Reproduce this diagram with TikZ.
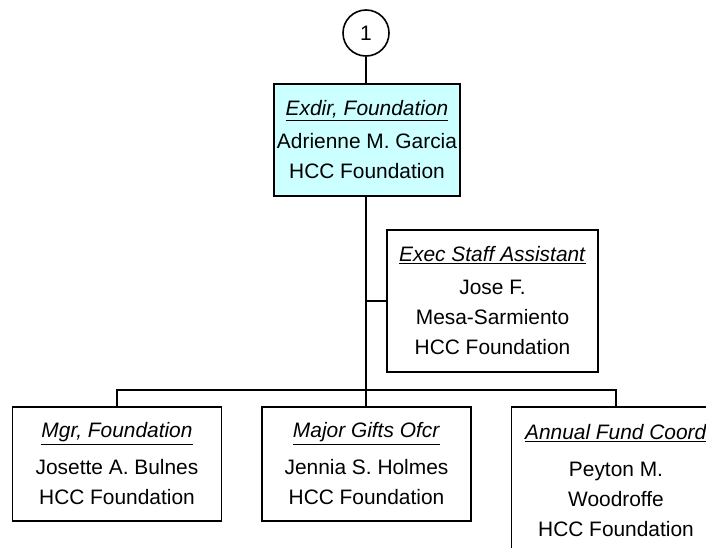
\documentclass[tikz,border=0pt]{standalone}
\usepackage{fontspec}
\setmainfont{Liberation Sans}
\usepackage{tikz}
\usetikzlibrary{positioning}

\definecolor{boxcyan}{RGB}{204,255,255}

\begin{document}
\begin{tikzpicture}[
    x=1pt, y=-1pt,
    font=\fontsize{20.9}{30}\selectfont,
    line width=1.6pt,
    orgbox/.style={rectangle, draw, fill=white, align=center, inner sep=0pt, minimum width=209pt, minimum height=114pt},
    headbox/.style={orgbox, fill=boxcyan, minimum width=186pt, minimum height=112pt},
    pagecirc/.style={circle, draw, fill=white, minimum size=46pt, inner sep=0pt},
    link/.style={draw, line width=1.6pt}
]
\useasboundingbox (0,0) rectangle (706,547);
\clip (0,0) rectangle (706,547);

% Top: page connector and executive director
\node[pagecirc] (pg1) at (366,33) {1};
\node[headbox] (exdir) at (367,140) {\underline{\textit{Exdir, Foundation}}\\[3pt]
    Adrienne M. Garcia\\HCC Foundation};

% Staff assistant
\node[orgbox, minimum width=211pt, minimum height=142pt] (asst) at (492.5,301) {\underline{\textit{Exec Staff Assistant}}\\[3pt]
    Jose F.\\Mesa-Sarmiento\\HCC Foundation};

% Direct reports
\node[orgbox] (mgr) at (117,464) {\underline{\textit{Mgr, Foundation}}\\[7pt]
    Josette A. Bulnes\\HCC Foundation};
\node[orgbox] (gifts) at (366.5,464) {\underline{\textit{Major Gifts Ofcr}}\\[7pt]
    Jennia S. Holmes\\HCC Foundation};
\node[orgbox, minimum height=148pt] (fund) at (616,481) {\underline{\textit{Annual Fund Coord}}\\[7pt]
    Peyton M.\\Woodroffe\\HCC Foundation};

\coordinate (bar) at (366,390);

% Connectors
\draw[link] (pg1.south) -- (exdir.north -| pg1.south);
\draw[link] (exdir.south -| bar) -- (bar);
\draw[link] (asst.west) -- (asst.west -| bar);
\draw[link] (mgr.north) |- (bar) -| (fund.north);
\draw[link] (gifts.north -| bar) -- (bar);

\end{tikzpicture}
\end{document}
